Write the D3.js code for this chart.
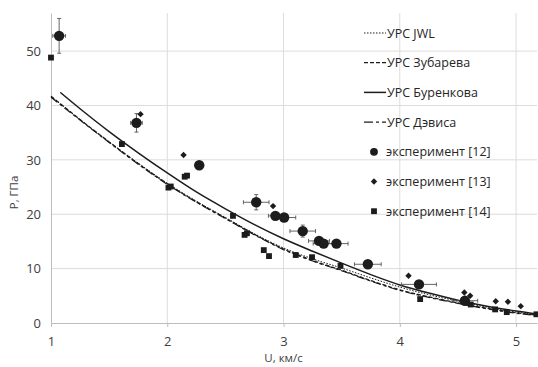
<!DOCTYPE html>
<head>
<script src="https://d3js.org/d3.v7.min.js"></script>
<style>
body { margin: 0; background: #fff; font-family: "Open Sans", sans-serif; }
</style>
</head>
<body>
<svg></svg>
<script>
// curve samples: U (км/с) and P (ГПа)
var curveU = [1.0, 1.25, 1.5, 1.75, 2.0, 2.25, 2.5, 2.75, 3.0, 3.25, 3.5, 3.75, 4.0, 4.25, 4.5, 4.75, 5.0, 5.2];
var jwlP     = [41.7, 37.4, 33.3, 29.4, 25.7, 22.4, 19.4, 16.4, 13.8, 11.8, 10.1, 8.3, 6.6, 5.2, 4.0, 2.9, 2.0, 1.5];
var zubarevP = [41.7, 37.4, 33.3, 29.3, 25.6, 22.3, 19.3, 16.3, 13.6, 11.5, 9.7, 7.8, 6.1, 4.8, 3.7, 2.7, 1.9, 1.4];
var davisP   = [41.5, 37.3, 33.2, 29.2, 25.5, 22.2, 19.2, 16.2, 13.5, 11.4, 9.6, 7.7, 6.0, 4.7, 3.6, 2.6, 1.8, 1.3];
var burenU = [1.08, 1.25, 1.5, 1.75, 2.0, 2.25, 2.5, 2.75, 3.0, 3.25, 3.5, 3.75, 4.0, 4.25, 4.5, 4.75, 5.0, 5.2];
var burenP = [42.4, 39.4, 35.2, 31.3, 27.6, 24.1, 21.0, 18.1, 15.5, 13.2, 11.0, 8.9, 7.0, 5.5, 4.2, 3.1, 2.2, 1.6];

// experiment [12]: U, P, error in U, error in P
var exp12U  = [1.07, 1.735, 2.275, 2.765, 2.93, 3.005, 3.165, 3.305, 3.345, 3.455, 3.725, 4.165, 4.56];
var exp12P  = [52.8, 36.8, 29.0, 22.2, 19.7, 19.4, 16.9, 15.1, 14.6, 14.6, 10.8, 7.1, 4.1];
var exp12dU = [0.055, 0.05, 0.03, 0.11, 0.06, 0.1, 0.11, 0.09, 0.09, 0.1, 0.115, 0.15, 0.11];
var exp12dP = [3.2, 1.7, 0.5, 1.4, 0.4, 0.5, 1.1, 0.4, 0.4, 0.4, 0.4, 0.4, 0.4];
// experiment [13]
var exp13U = [1.77, 2.14, 2.29, 2.91, 4.075, 4.555, 4.605, 4.825, 4.93, 5.04];
var exp13P = [38.4, 30.9, 29.2, 21.5, 8.7, 5.6, 5.0, 4.0, 3.9, 3.1];
// experiment [14]
var exp14U = [1.0, 1.61, 2.01, 2.03, 2.15, 2.17, 2.565, 2.665, 2.685, 2.83, 2.875, 3.105, 3.245, 3.49, 4.175, 4.61, 4.82, 4.92, 5.175];
var exp14P = [48.8, 32.9, 24.9, 25.1, 26.9, 27.1, 19.7, 16.2, 16.5, 13.4, 12.3, 12.5, 12.1, 10.5, 4.4, 3.4, 2.5, 2.0, 1.6];

var xTicks = [1, 2, 3, 4, 5];
var yTicks = [0, 10, 20, 30, 40, 50];

var W = 538, H = 367;
var m = {left: 51, right: 1, top: 13, bottom: 44};

var svg = d3.select("svg").attr("width", W).attr("height", H);
var x = d3.scaleLinear().domain([1, 5.18]).range([m.left, W - m.right]);
var y = d3.scaleLinear().domain([0, 57]).range([H - m.bottom, m.top]);

var ink = "#1c1c1c";

// grid
svg.append("g").selectAll("line").data(yTicks.slice(1)).join("line")
  .attr("x1", x.range()[0]).attr("x2", x.range()[1])
  .attr("y1", d => y(d)).attr("y2", d => y(d))
  .attr("stroke", "#dcdcdc").attr("stroke-width", 1);
svg.append("g").selectAll("line").data(xTicks.slice(1)).join("line")
  .attr("x1", d => x(d)).attr("x2", d => x(d))
  .attr("y1", y.range()[0]).attr("y2", y.range()[1])
  .attr("stroke", "#dcdcdc").attr("stroke-width", 1);

// axes
var xAxis = svg.append("g").attr("transform", "translate(0," + y(0) + ")")
  .call(d3.axisBottom(x).tickValues(xTicks).tickFormat(d3.format("d")).tickSize(4).tickSizeOuter(0).tickPadding(10));
var yAxis = svg.append("g").attr("transform", "translate(" + x(1) + ",0)")
  .call(d3.axisLeft(y).tickValues(yTicks).tickSize(0).tickSizeOuter(0).tickPadding(10));
[xAxis, yAxis].forEach(function(a) {
  a.select(".domain").attr("stroke", "#bdbdbd");
  a.selectAll(".tick line").attr("stroke", "#bdbdbd");
  a.selectAll("text").attr("fill", "#404040").style("font-size", "13px").style("font-family", "Open Sans");
});

svg.append("text").attr("x", x(3)).attr("y", 362).attr("text-anchor", "middle")
  .attr("fill", "#404040").style("font-size", "11.5px").text("U, км/с");
svg.append("text").attr("transform", "translate(18," + y(24) + ")rotate(-90)").attr("text-anchor", "middle")
  .attr("fill", "#404040").style("font-size", "11.5px").text("P, ГПа");

// curves
var line = d3.line().x(d => x(d[0])).y(d => y(d[1])).curve(d3.curveMonotoneX);
var curves = [
  {name: "УРС JWL", u: curveU, p: jwlP, dash: "1.5,1.5", w: 1},
  {name: "УРС Зубарева", u: curveU, p: zubarevP, dash: "4,2", w: 1.3},
  {name: "УРС Буренкова", u: burenU, p: burenP, dash: null, w: 1.5},
  {name: "УРС Дэвиса", u: curveU, p: davisP, dash: "8,3,3,3", w: 1.2}
];
var plot = svg.append("g");
curves.forEach(function(c) {
  plot.append("path").datum(d3.zip(c.u, c.p))
    .attr("d", line).attr("fill", "none").attr("stroke", ink)
    .attr("stroke-width", c.w).attr("stroke-dasharray", c.dash);
});

// error bars for [12]
var ebColor = "#555";
var e12 = d3.range(exp12U.length).map(i => ({u: exp12U[i], p: exp12P[i], du: exp12dU[i], dp: exp12dP[i]}));
var eb = plot.append("g").attr("stroke", ebColor).attr("stroke-width", 0.9);
e12.forEach(function(d) {
  eb.append("line").attr("x1", x(d.u - d.du)).attr("x2", x(d.u + d.du)).attr("y1", y(d.p)).attr("y2", y(d.p));
  eb.append("line").attr("x1", x(d.u - d.du)).attr("x2", x(d.u - d.du)).attr("y1", y(d.p) - 2).attr("y2", y(d.p) + 2);
  eb.append("line").attr("x1", x(d.u + d.du)).attr("x2", x(d.u + d.du)).attr("y1", y(d.p) - 2).attr("y2", y(d.p) + 2);
  eb.append("line").attr("x1", x(d.u)).attr("x2", x(d.u)).attr("y1", y(d.p - d.dp)).attr("y2", y(d.p + d.dp));
  eb.append("line").attr("x1", x(d.u) - 2).attr("x2", x(d.u) + 2).attr("y1", y(d.p - d.dp)).attr("y2", y(d.p - d.dp));
  eb.append("line").attr("x1", x(d.u) - 2).attr("x2", x(d.u) + 2).attr("y1", y(d.p + d.dp)).attr("y2", y(d.p + d.dp));
});

var circle = d3.symbol().type(d3.symbolCircle).size(85);
var diamond = d3.symbol().type(d3.symbolDiamond2).size(26);
var square = d3.symbol().type(d3.symbolSquare).size(34);

plot.append("g").selectAll("path").data(d3.zip(exp14U, exp14P)).join("path")
  .attr("transform", d => "translate(" + x(d[0]) + "," + y(d[1]) + ")").attr("d", square).attr("fill", ink);
plot.append("g").selectAll("path").data(d3.zip(exp13U, exp13P)).join("path")
  .attr("transform", d => "translate(" + x(d[0]) + "," + y(d[1]) + ")").attr("d", diamond).attr("fill", ink);
plot.append("g").selectAll("path").data(d3.zip(exp12U, exp12P)).join("path")
  .attr("transform", d => "translate(" + x(d[0]) + "," + y(d[1]) + ")").attr("d", circle).attr("fill", ink);

// legend
var legendNames = ["УРС JWL", "УРС Зубарева", "УРС Буренкова", "УРС Дэвиса", "эксперимент [12]", "эксперимент [13]", "эксперимент [14]"];
var leg = svg.append("g").attr("transform", "translate(363,0)");
legendNames.forEach(function(name, i) {
  var ly = 33 + i * 29.7;
  var g = leg.append("g").attr("transform", "translate(0," + ly + ")");
  if (i < 4) {
    var c = curves[i];
    g.append("line").attr("x1", 1).attr("x2", 23).attr("y1", 0).attr("y2", 0)
      .attr("stroke", ink).attr("stroke-width", c.w).attr("stroke-dasharray", i === 3 ? "9,3,3,3" : c.dash);
    g.append("text").attr("x", 24).attr("y", 4.5).attr("fill", "#262626").style("font-size", "12.5px").text(name);
  } else {
    var sym = [circle, diamond, square][i - 4];
    g.append("path").attr("transform", "translate(11,0)" + (i === 4 ? "scale(0.75)" : "")).attr("d", sym).attr("fill", ink);
    g.append("text").attr("x", 23).attr("y", 4.5).attr("fill", "#262626").style("font-size", "12.5px").text(name);
  }
});
</script>
</body>
